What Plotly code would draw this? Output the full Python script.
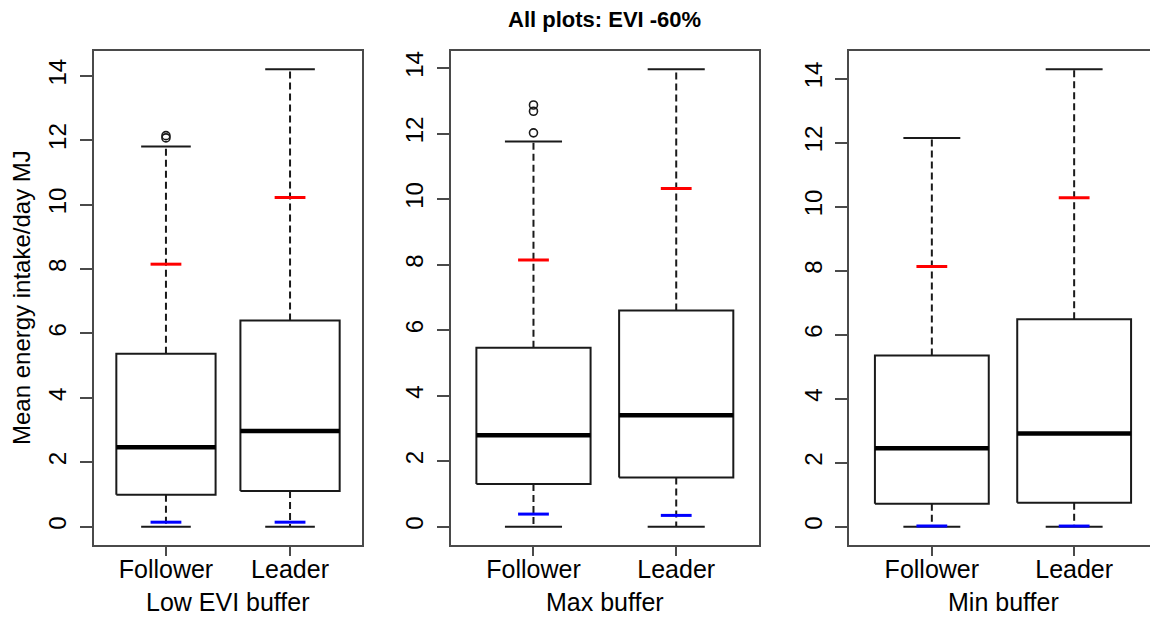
import plotly.graph_objects as go

# Groups and panels
categories = ["Follower", "Leader"]
panel_titles = ["Low EVI buffer", "Max buffer", "Min buffer"]

# Box statistics per panel: [Follower, Leader]
low_q1 = [0.99, 1.11]
low_median = [2.47, 2.97]
low_q3 = [5.37, 6.40]
low_lower = [0.0, 0.0]
low_upper = [11.80, 14.20]
low_red = [8.15, 10.22]
low_blue = [0.14, 0.14]
low_outliers = [[12.07, 12.14], []]

max_q1 = [1.30, 1.50]
max_median = [2.79, 3.40]
max_q3 = [5.46, 6.60]
max_lower = [0.0, 0.0]
max_upper = [11.76, 13.96]
max_red = [8.14, 10.32]
max_blue = [0.385, 0.345]
max_outliers = [[12.02, 12.68, 12.87], []]

min_q1 = [0.72, 0.75]
min_median = [2.45, 2.91]
min_q3 = [5.35, 6.48]
min_lower = [0.0, 0.0]
min_upper = [12.14, 14.29]
min_red = [8.13, 10.28]
min_blue = [0.02, 0.02]
min_outliers = [[], []]

y_ticks = [0, 2, 4, 6, 8, 10, 12, 14]

panels = [
    (low_q1, low_median, low_q3, low_lower, low_upper, low_red, low_blue, low_outliers),
    (max_q1, max_median, max_q3, max_lower, max_upper, max_red, max_blue, max_outliers),
    (min_q1, min_median, min_q3, min_lower, min_upper, min_red, min_blue, min_outliers),
]

W, H = 1150, 617
FONT = "Liberation Sans, Arial, sans-serif"
AXIS_COLOR = "#4a4a4a"
INK = "#1a1a1a"

# pixel placement of each plotting region
x_domains = [(94 / W, 362 / W), (450.7 / W, 759 / W), (849.3 / W, 1.0)]
y_domain = ((H - 545) / H, (H - 51) / H)
x_ranges = [[0.42, 2.58], [0.42, 2.58], [0.42, 2.533]]

BOX_HALF = 0.4
CAP_HALF = 0.2

fig = go.Figure()

for p, (q1, med, q3, lo, hi, red, blue, outl) in enumerate(panels):
    xa = "x" if p == 0 else f"x{p + 1}"
    ya = "y" if p == 0 else f"y{p + 1}"
    pos = [i + 1 for i in range(len(categories))]

    bx, by, wx, wy, cx, cy, mx, my = [], [], [], [], [], [], [], []
    for i, c in enumerate(pos):
        bx += [c - BOX_HALF, c + BOX_HALF, c + BOX_HALF, c - BOX_HALF, c - BOX_HALF, None]
        by += [q1[i], q1[i], q3[i], q3[i], q1[i], None]
        wx += [c, c, None, c, c, None]
        wy += [q3[i], hi[i], None, q1[i], lo[i], None]
        cx += [c - CAP_HALF, c + CAP_HALF, None, c - CAP_HALF, c + CAP_HALF, None]
        cy += [hi[i], hi[i], None, lo[i], lo[i], None]
        mx += [c - BOX_HALF, c + BOX_HALF, None]
        my += [med[i], med[i], None]

    # dashed whiskers
    fig.add_trace(go.Scatter(x=wx, y=wy, mode="lines", xaxis=xa, yaxis=ya,
                             line=dict(color=INK, width=2, dash="7px,4px"),
                             hoverinfo="skip", showlegend=False))
    # whisker caps
    fig.add_trace(go.Scatter(x=cx, y=cy, mode="lines", xaxis=xa, yaxis=ya,
                             line=dict(color=INK, width=2),
                             hoverinfo="skip", showlegend=False))
    # boxes
    fig.add_trace(go.Scatter(x=bx, y=by, mode="lines", xaxis=xa, yaxis=ya,
                             fill="toself", fillcolor="white",
                             line=dict(color=INK, width=2),
                             hoverinfo="skip", showlegend=False))
    # medians
    fig.add_trace(go.Scatter(x=mx, y=my, mode="lines", xaxis=xa, yaxis=ya,
                             line=dict(color="black", width=4.5),
                             hoverinfo="skip", showlegend=False))
    # outliers
    ox, oy = [], []
    for i, c in enumerate(pos):
        ox += [c] * len(outl[i])
        oy += outl[i]
    if ox:
        fig.add_trace(go.Scatter(x=ox, y=oy, mode="markers", xaxis=xa, yaxis=ya,
                                 marker=dict(symbol="circle-open", size=8,
                                             color=INK, line=dict(width=1.6)),
                                 showlegend=False))
    # red and blue markers
    fig.add_trace(go.Scatter(x=pos, y=red, mode="markers", xaxis=xa, yaxis=ya,
                             marker=dict(symbol="line-ew", size=22,
                                         line=dict(color="#ff0000", width=3)),
                             showlegend=False))
    fig.add_trace(go.Scatter(x=pos, y=blue, mode="markers", xaxis=xa, yaxis=ya,
                             marker=dict(symbol="line-ew", size=22,
                                         line=dict(color="#0000ff", width=3)),
                             showlegend=False))

    # y range as in R: data extent padded by 4%
    ymin = min(lo + [v for o in outl for v in o])
    ymax = max(hi + [v for o in outl for v in o])
    pad = 0.04 * (ymax - ymin)

    xkey = "xaxis" if p == 0 else f"xaxis{p + 1}"
    ykey = "yaxis" if p == 0 else f"yaxis{p + 1}"
    fig.update_layout({
        xkey: dict(domain=list(x_domains[p]), anchor=ya, range=x_ranges[p],
                   tickmode="array", tickvals=pos, ticktext=categories,
                   ticks="outside", ticklen=9, tickwidth=2, tickcolor=AXIS_COLOR,
                   ticklabelstandoff=-8,
                   showline=True, linecolor=AXIS_COLOR, linewidth=2, mirror=True,
                   showgrid=False, zeroline=False,
                   tickfont=dict(family=FONT, size=25, color="black")),
        ykey: dict(domain=list(y_domain), anchor=xa, range=[ymin - pad, ymax + pad],
                   tickmode="array", tickvals=y_ticks, tickangle=-90,
                   ticks="outside", ticklen=12, tickwidth=2, tickcolor=AXIS_COLOR,
                   ticklabelstandoff=4,
                   showline=True, linecolor=AXIS_COLOR, linewidth=2,
                   mirror=(p < 2),
                   showgrid=False, zeroline=False,
                   tickfont=dict(family=FONT, size=24, color="black")),
    })

annotations = [
    dict(text="<b>All plots: EVI -60%</b>", x=604 / W, y=1 - 19 / H,
         xref="paper", yref="paper", showarrow=False,
         xanchor="center", yanchor="middle",
         font=dict(family=FONT, size=22, color="black")),
    dict(text="Mean energy intake/day MJ", x=22 / W, y=1 - 298 / H,
         xref="paper", yref="paper", showarrow=False, textangle=-90,
         xanchor="center", yanchor="middle",
         font=dict(family=FONT, size=24, color="black")),
]
title_centers = [228, 605, 1003.5]
for t, cxp in zip(panel_titles, title_centers):
    annotations.append(dict(text=t, x=cxp / W, y=1 - 602 / H,
                            xref="paper", yref="paper", showarrow=False,
                            xanchor="center", yanchor="middle",
                            font=dict(family=FONT, size=25, color="black")))

fig.update_layout(
    width=W, height=H,
    margin=dict(l=0, r=0, t=0, b=0),
    paper_bgcolor="white", plot_bgcolor="white",
    showlegend=False,
    annotations=annotations,
)

fig.write_html("out.html")
